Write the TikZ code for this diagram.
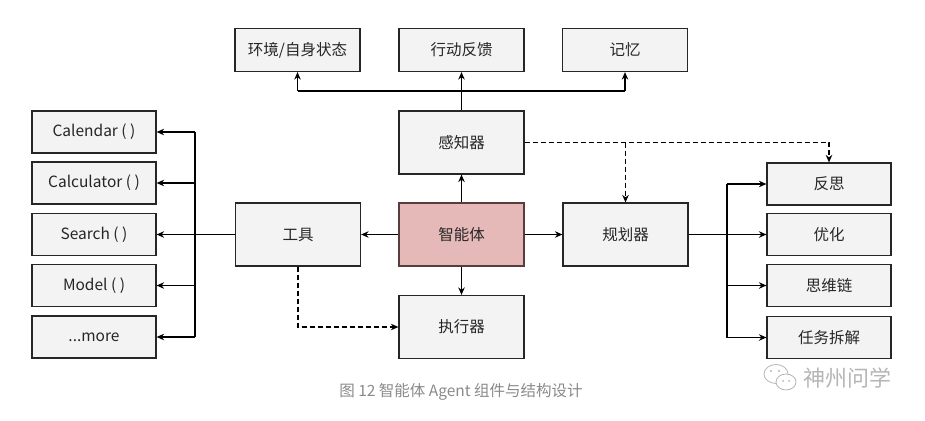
\documentclass[tikz,border=0pt]{standalone}
\usepackage{fontspec}
\newfontfamily\cjk{Noto Sans CJK SC}
\usetikzlibrary{arrows.meta}
\definecolor{boxfill}{HTML}{F3F3F3}
\definecolor{agentfill}{HTML}{E6B9B9}
\definecolor{agentline}{HTML}{5A3C3C}
\definecolor{capgray}{HTML}{8A8A8A}
\definecolor{wmgray}{HTML}{B5B5B5}
\begin{document}
\begin{tikzpicture}[x=1pt,y=-1pt,
  box/.style={draw=black!85,fill=boxfill,line width=1.2pt,minimum width=125pt,minimum height=43pt,inner sep=0pt,text=black!85,font=\cjk\fontsize{15.5}{18}\selectfont},
  tall/.style={box,minimum height=63pt},
  small/.style={box,minimum height=42pt,minimum width=124pt},
  agentbox/.style={tall,fill=agentfill,draw=agentline},
  conn/.style={line width=1.3pt,draw=black,line join=miter},
  arr/.style={conn,-{Stealth[length=7.5pt,width=6.5pt]}},
  darr/.style={arr,dash pattern=on 5pt off 3pt}
]
\useasboundingbox (0,0) rectangle (925,420);
% top row
\node[box] (env) at (297.5,50) {环境/自身状态};
\node[box] (fb)  at (461.5,50) {行动反馈};
\node[box] (mem) at (625,50) {记忆};
% center column
\node[tall] (perc) at (461.5,142.5) {感知器};
\node[agentbox] (agent) at (461.5,234.5) {智能体};
\node[tall] (exec) at (461.5,327) {执行器};
\node[tall] (tool) at (298,234.5) {工具};
\node[tall] (plan) at (625.5,234.5) {规划器};
% left column
\node[small] (c1) at (94,132) {Calendar ( )};
\node[small] (c2) at (94,183) {Calculator ( )};
\node[small] (c3) at (94,234.5) {Search ( )};
\node[small] (c4) at (94,285.5) {Model ( )};
\node[small] (c5) at (94,337) {...more};
% right column
\node[small] (r1) at (829,184) {反思};
\node[small] (r2) at (829,234.5) {优化};
\node[small] (r3) at (829,285.5) {思维链};
\node[small] (r4) at (829,337.5) {任务拆解};
% coordinates
\coordinate (tj) at (461.5,91);
\coordinate (lbus) at (195,234.5);
\coordinate (rbus) at (727,234.5);
\coordinate (dj) at (625.5,142.5);
% perception to top
\draw[arr] (perc.north) -- (fb.south);
\draw[conn] (env.south |- tj) -- (mem.south |- tj);
\draw[arr] (env.south |- tj) -- (env.south);
\draw[arr] (mem.south |- tj) -- (mem.south);
% agent connections
\draw[arr] (agent.north) -- (perc.south);
\draw[arr] (agent.south) -- (exec.north);
\draw[arr] (agent.west) -- (tool.east);
\draw[arr] (agent.east) -- (plan.west);
% tools bus
\draw[conn] (tool.west) -- (lbus);
\draw[conn] (lbus |- c1.east) -- (lbus |- c5.east);
\foreach \n in {c1,c2,c3,c4,c5} \draw[arr] (lbus |- \n.east) -- (\n.east);
% planner bus
\draw[conn] (plan.east) -- (rbus);
\draw[conn] (rbus |- r1.west) -- (rbus |- r4.west);
\foreach \n in {r1,r2,r3,r4} \draw[arr] (rbus |- \n.west) -- (\n.west);
% dashed
\draw[darr] (perc.east) -| (r1.north);
\draw[darr] (dj) -- (plan.north);
\draw[darr] (tool.south) |- (exec.west);
% caption
\node[font=\cjk\fontsize{15.5}{18}\selectfont,text=capgray,inner sep=0pt] (cap) at (461,392) {图 12 智能体 Agent 组件与结构设计};
% watermark
\begin{scope}[draw=wmgray,line width=0.8pt]
\draw (776,374) ellipse [x radius=12pt,y radius=9.5pt];
\filldraw[fill=white] (786,382) ellipse [x radius=10pt,y radius=8pt];
\fill[wmgray] (771,371) circle (1.2pt) (779,371) circle (1.2pt) (783,381) circle (1pt) (789,381) circle (1pt);
\end{scope}
\node[font=\cjk\fontsize{22}{24}\selectfont,text=wmgray,inner sep=0pt] (wm) at (847,378) {神州问学};
\end{tikzpicture}
\end{document}
